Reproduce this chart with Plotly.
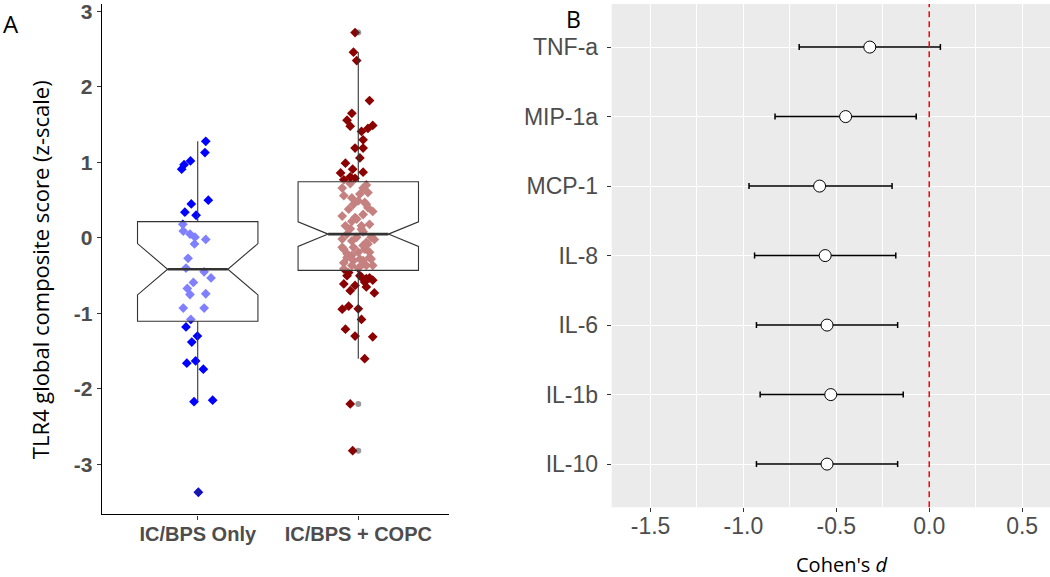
import plotly.graph_objects as go

W, H = 1050, 577

# ---------------- Panel A data ----------------
groups = ["IC/BPS Only", "IC/BPS + COPC"]

g1_vals = [1.28, 1.13, 1.02, 0.97, 0.91, 0.50, 0.45, 0.34, 0.30, 0.18, 0.09, 0.05, 0.01,
           -0.08, -0.02, -0.27, -0.40, -0.45, -0.53, -0.59, -0.67, -0.75, -0.74, -0.93,
           -0.93, -1.08, -1.18, -1.30, -1.38, -1.66, -1.63, -1.74, -2.17, -2.15, -3.37]
g1_jit = [0.05, 0.045, -0.045, -0.085, -0.10, 0.066, -0.04, -0.08, -0.01, -0.093, -0.09,
          -0.048, -0.017, -0.02, 0.05, -0.06, -0.073, 0.04, 0.083, -0.027, -0.065, -0.048,
          0.05, -0.09, 0.04, -0.043, -0.073, -0.002, -0.037, -0.068, -0.013, 0.035, -0.023,
          0.093, 0.004]

g2_vals = [2.72, 2.46, 2.35, 1.82, 1.65, 1.56, 1.48, 1.49, 1.45, 1.41, 1.30, 1.19, 1.19,
           1.06, 0.99, 0.91, 0.87, 0.86, 0.77, 0.79, 0.81,
           0.66, 0.66, 0.60, 0.72, 0.70, 0.56, 0.58, 0.53, 0.49, 0.47, 0.445, 0.445, 0.40,
           0.38, 0.35, 0.29, 0.25, 0.31, 0.27, 0.22, 0.18, 0.16, 0.16, 0.115, 0.12, 0.08,
           0.05, -0.015, -0.04, 0.007, -0.06, 0.007, -0.08, -0.02, -0.125, -0.125, -0.10,
           -0.15, -0.15, -0.21, -0.19, -0.19, -0.23, -0.26, -0.28, -0.26, -0.30, -0.30,
           -0.28, -0.33, -0.365, -0.365, -0.345, -0.365, -0.40, -0.41,
           -0.46, -0.50, -0.54, -0.52, -0.53, -0.50, -0.585, -0.56, -0.61, -0.63, -0.65,
           -0.70, -0.73, -0.945, -0.905, -0.94, -1.08, -1.21, -1.30, -1.31, -1.60, -2.20,
           -2.82]
g2_jit = [-0.02, -0.03, -0.01, 0.07, -0.04, -0.07, -0.05, 0.09, 0.06, 0.02, 0.03, -0.02, 0.03,
          0.01, -0.08, -0.035, 0.03, -0.11, -0.09, -0.02, -0.05,
          -0.10, 0.03, 0.06, -0.05, 0.05, -0.09, 0.01, -0.04, 0.0, 0.04, -0.03, 0.05, 0.06,
          -0.06, 0.09, -0.10, -0.01, 0.03, -0.02, -0.04, 0.07, -0.08, 0.02, 0.02, -0.05, 0.03,
          -0.07, -0.10, -0.04, -0.01, 0.05, 0.08, 0.06, 0.10, -0.10, -0.03, 0.03,
          -0.09, 0.04, -0.07, 0.0, 0.07, -0.04, -0.07, 0.01, 0.07, -0.03, 0.03,
          0.08, -0.09, 0.05, -0.04, 0.03, 0.09, 0.0, -0.09,
          -0.06, 0.01, 0.05, 0.02, 0.07, -0.07, 0.04, 0.09, -0.09, -0.02, 0.05,
          -0.05, 0.10, -0.10, -0.06, 0.0, 0.02, -0.08, -0.02, 0.09, 0.04, -0.05,
          -0.035]

box_q1 = [-1.105, -0.43]
box_median = [-0.415, 0.05]
box_q3 = [0.215, 0.743]
box_notch = [0.34, 0.163]
group_colors = ["#0000FF", "#8B0000"]

# ---------------- Panel B data ----------------
cytokines = ["TNF-a", "MIP-1a", "MCP-1", "IL-8", "IL-6", "IL-1b", "IL-10"]
cohen_d = [-0.32, -0.45, -0.59, -0.56, -0.55, -0.53, -0.55]
ci_low = [-0.70, -0.83, -0.97, -0.94, -0.93, -0.91, -0.93]
ci_high = [0.06, -0.07, -0.20, -0.18, -0.17, -0.14, -0.17]

# ---------------- derived box statistics ----------------
all_vals = [g1_vals, g2_vals]
low_f, up_f, out_x, out_y = [], [], [], []
for i, vals in enumerate(all_vals):
    iqr = box_q3[i] - box_q1[i]
    lo_lim = box_q1[i] - 1.5 * iqr
    hi_lim = box_q3[i] + 1.5 * iqr
    low_f.append(min(v for v in vals if v >= lo_lim))
    up_f.append(max(v for v in vals if v <= hi_lim))
    for v in vals:
        if v < lo_lim or v > hi_lim:
            out_x.append(i)
            out_y.append(v)

fig = go.Figure()

# jittered points (base layer)
for i, (vals, jit) in enumerate(zip(all_vals, [g1_jit, g2_jit])):
    fig.add_trace(go.Scatter(
        x=[i + j for j in jit], y=vals, mode="markers",
        marker=dict(symbol="diamond", size=7.5, color=group_colors[i], line=dict(width=0)),
        xaxis="x", yaxis="y", showlegend=False, hoverinfo="y"))

# boxes on overlay axes (drawn above points, semi-transparent white fill)
BOX_W = 0.75
fig.add_trace(go.Box(
    x=[0, 1], q1=box_q1, median=box_median, q3=box_q3,
    lowerfence=low_f, upperfence=up_f, notchspan=box_notch,
    notched=True, notchwidth=0.25, width=BOX_W, whiskerwidth=0,
    fillcolor="rgba(255,255,255,0.5)", line=dict(color="#333333", width=1.1),
    boxpoints=False, xaxis="x3", yaxis="y3", showlegend=False))

for i in range(2):
    hw = BOX_W / 2 * 0.5
    fig.add_trace(go.Scatter(
        x=[i - hw, i + hw], y=[box_median[i], box_median[i]], mode="lines",
        line=dict(color="#333333", width=2.6), xaxis="x3", yaxis="y3",
        showlegend=False, hoverinfo="skip"))

fig.add_trace(go.Scatter(
    x=out_x, y=out_y, mode="markers",
    marker=dict(symbol="circle", size=6, color="rgba(51,51,51,0.5)", line=dict(width=0)),
    xaxis="x3", yaxis="y3", showlegend=False))

# forest plot
fig.add_trace(go.Scatter(
    x=cohen_d, y=cytokines, mode="markers",
    marker=dict(symbol="circle", size=12, color="white", line=dict(color="black", width=1)),
    error_x=dict(type="data", symmetric=False,
                 array=[h - d for h, d in zip(ci_high, cohen_d)],
                 arrayminus=[d - l for d, l in zip(cohen_d, ci_low)],
                 color="black", thickness=1.5, width=3),
    xaxis="x2", yaxis="y2", showlegend=False))

# ---------------- layout ----------------
xA = [101.7 / W, 449 / W]
yA = [1 - 514 / H, 1.0]
xB = [611.7 / W, 1.0]
yB = [1 - 506.7 / H, 1.0]
xA_range = [-0.598, 1.565]
yA_range = [-3.664, 3.099]

boldfont = dict(family="Liberation Sans, Arial", size=20, color="#4D4D4D", weight="bold")
regfont = dict(family="Liberation Sans, Arial", size=23, color="#4D4D4D")

y_ticks = [3, 2, 1, 0, -1, -2, -3]
x_ticks_b = [-1.5, -1.0, -0.5, 0.0, 0.5]

fig.update_layout(
    width=W, height=H, margin=dict(l=0, r=0, t=0, b=0),
    paper_bgcolor="white", plot_bgcolor="rgba(0,0,0,0)",
    showlegend=False,
    xaxis=dict(domain=xA, range=xA_range, anchor="y", tickvals=[0, 1], ticktext=groups,
               showline=True, linecolor="black", linewidth=1.2, ticks="outside",
               ticklen=4, tickcolor="#333333", tickwidth=1.1, tickfont=boldfont,
               showgrid=False, zeroline=False, ticklabelstandoff=-3,
               ticklabeloverflow="allow"),
    yaxis=dict(domain=yA, range=yA_range, anchor="x", tickvals=y_ticks,
               ticktext=[str(t) for t in y_ticks],
               showline=True, linecolor="black", linewidth=1.2, ticks="outside",
               ticklen=4, tickcolor="#333333", tickwidth=1.1,
               tickfont=dict(boldfont, size=21),
               showgrid=False, zeroline=False, ticklabeloverflow="allow"),
    xaxis3=dict(overlaying="x", range=xA_range, anchor="y3", visible=False),
    yaxis3=dict(overlaying="y", range=yA_range, anchor="x3", visible=False),
    xaxis2=dict(domain=xB, range=[-1.709, 0.65], anchor="y2", tickvals=x_ticks_b,
                ticktext=["%.1f" % t for t in x_ticks_b], ticks="outside", ticklen=4,
                tickcolor="#333333", tickwidth=1.1, tickfont=regfont,
                showgrid=True, gridcolor="white", gridwidth=1.4, zeroline=False,
                showline=False, ticklabelstandoff=-6, ticklabeloverflow="allow",
                minor=dict(tick0=0.25, dtick=0.5, showgrid=True, gridcolor="white",
                           gridwidth=0.7, ticks="")),
    yaxis2=dict(domain=yB, anchor="x2", type="category",
                categoryorder="array", categoryarray=cytokines[::-1],
                range=[-0.62, 6.62], ticks="outside", ticklen=4, tickcolor="#333333",
                tickwidth=1.1, tickfont=regfont, showgrid=True, gridcolor="white",
                gridwidth=1.4, zeroline=False, showline=False, ticklabelstandoff=4,
                ticklabeloverflow="allow"),
    shapes=[
        dict(type="rect", xref="x2 domain", yref="y2 domain", x0=0, x1=1, y0=0, y1=1,
             fillcolor="#EBEBEB", line=dict(width=0), layer="below"),
        dict(type="line", xref="x2", yref="y2 domain", x0=0, x1=0, y0=0, y1=1,
             line=dict(color="red", width=1.5, dash="6px,4px"), layer="above"),
    ],
    annotations=[
        dict(text="A", x=11 / W, y=1 - 20 / H, xref="paper", yref="paper",
             xanchor="center", yanchor="middle",
             showarrow=False, font=dict(family="Open Sans", size=24, color="black")),
        dict(text="B", x=573 / W, y=1 - 15 / H, xref="paper", yref="paper",
             xanchor="center", yanchor="middle",
             showarrow=False, font=dict(family="Open Sans", size=23, color="black")),
        dict(text="TLR4 global composite score (z-scale)", x=40 / W, y=1 - 268 / H,
             xref="paper", yref="paper", textangle=-90, showarrow=False,
             xanchor="center", yanchor="middle",
             font=dict(family="Open Sans", size=22, color="black")),
        dict(text="Cohen's <i>d</i>", x=842 / W, y=1 - 564 / H, xref="paper", yref="paper",
             xanchor="center", yanchor="middle",
             showarrow=False, font=dict(family="Open Sans", size=20, color="black")),
    ],
)

fig.write_html("out.html", config={"displayModeBar": False},
               post_script="document.body.style.margin='0';document.body.style.padding='0';")
